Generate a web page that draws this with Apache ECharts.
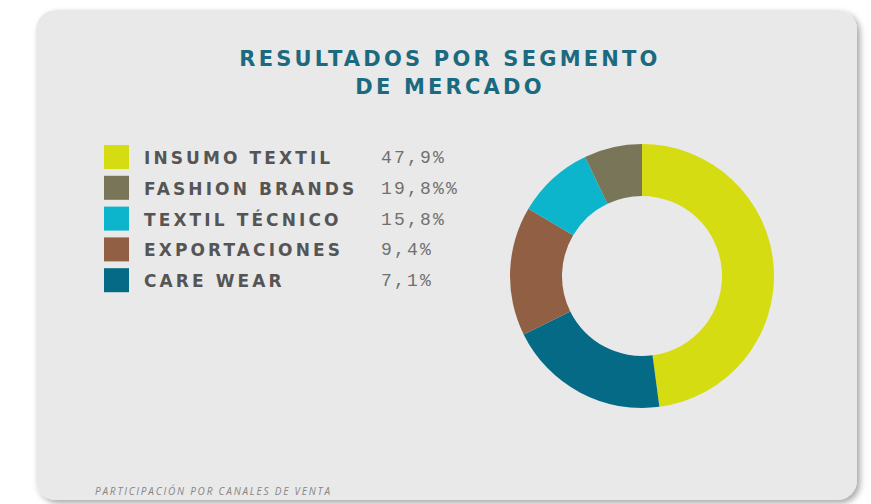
<!DOCTYPE html>
<html>
<head>
<meta charset="utf-8">
<style>
  html, body { margin: 0; padding: 0; background: #ffffff; }
  #chart { width: 871px; height: 504px; }
</style>
<script src="https://cdn.jsdelivr.net/npm/echarts@6/dist/echarts.min.js"></script>
</head>
<body>
<div id="chart"></div>
<script>
// ---- data ----
const titleLines = ['RESULTADOS POR SEGMENTO', 'DE MERCADO'];
const footerText = 'PARTICIPACIÓN POR CANALES DE VENTA';
const categories = ['INSUMO TEXTIL', 'FASHION BRANDS', 'TEXTIL TÉCNICO', 'EXPORTACIONES', 'CARE WEAR'];
const values = [47.9, 19.8, 15.8, 9.4, 7.1];
const valueLabels = ['47,9%', '19,8%%', '15,8%', '9,4%', '7,1%'];
// legend swatch colours as printed in the key
const legendColors = ['#d5dc12', '#787559', '#0db5cc', '#915f44', '#046a86'];
// slice colours as drawn in the ring (clockwise from 12 o'clock)
const sliceColors = ['#d5dc12', '#046a86', '#915f44', '#0db5cc', '#787559'];

const chart = echarts.init(document.getElementById('chart'), null, { renderer: 'svg' });

const graphics = [];
// card
graphics.push({
  type: 'rect', z: 0,
  shape: { x: 36, y: 10, width: 821, height: 490, r: 20 },
  style: { fill: '#e9e9e9', shadowBlur: 6, shadowColor: 'rgba(0,0,0,0.35)', shadowOffsetX: 3, shadowOffsetY: 3 }
});
// title
titleLines.forEach((t, i) => {
  graphics.push({
    type: 'text', z: 2, x: 450, y: 59 + i * 28,
    style: { text: t, fill: '#1b6a80', font: 'bold 21px "DejaVu Sans"', align: 'center', verticalAlign: 'middle' }
  });
});
// legend
categories.forEach((c, i) => {
  const cy = 157 + i * 30.8;
  graphics.push({
    type: 'rect', z: 2, shape: { x: 104, y: cy - 12, width: 25, height: 24 },
    style: { fill: legendColors[i] }
  });
  graphics.push({
    type: 'text', z: 2, x: 144, y: cy + 1,
    style: { text: c, fill: '#555555', font: 'bold 17px "DejaVu Sans"', align: 'left', verticalAlign: 'middle' }
  });
  graphics.push({
    type: 'text', z: 2, x: 381, y: cy + 1,
    style: { text: valueLabels[i], fill: '#707070', font: '18px "Liberation Mono"', align: 'left', verticalAlign: 'middle' }
  });
});
// footer
graphics.push({
  type: 'text', z: 2, x: 95, y: 491,
  style: { text: footerText, fill: '#858585', font: 'italic 10px "Open Sans"', align: 'left', verticalAlign: 'middle' }
});

chart.setOption({
  animation: false,
  backgroundColor: '#ffffff',
  graphic: graphics,
  series: [{
    type: 'pie',
    z: 3,
    center: [642, 276],
    radius: [80, 132],
    startAngle: 90,
    clockwise: true,
    label: { show: false },
    labelLine: { show: false },
    emphasis: { disabled: true },
    silent: true,
    itemStyle: { borderWidth: 0 },
    data: values.map((v, i) => ({ name: categories[i], value: v, itemStyle: { color: sliceColors[i] } }))
  }]
});

// letter spacing (the reference uses widely tracked type)
function track() {
  document.querySelectorAll('#chart svg text').forEach(el => {
    const t = el.textContent;
    if (titleLines.includes(t)) el.style.letterSpacing = '3.2px';
    else if (categories.includes(t)) el.style.letterSpacing = '3.1px';
    else if (valueLabels.includes(t)) el.style.letterSpacing = '2.2px';
    else if (t === footerText) el.style.letterSpacing = '1.8px';
  });
}
track();
chart.on('finished', track);
</script>
</body>
</html>
